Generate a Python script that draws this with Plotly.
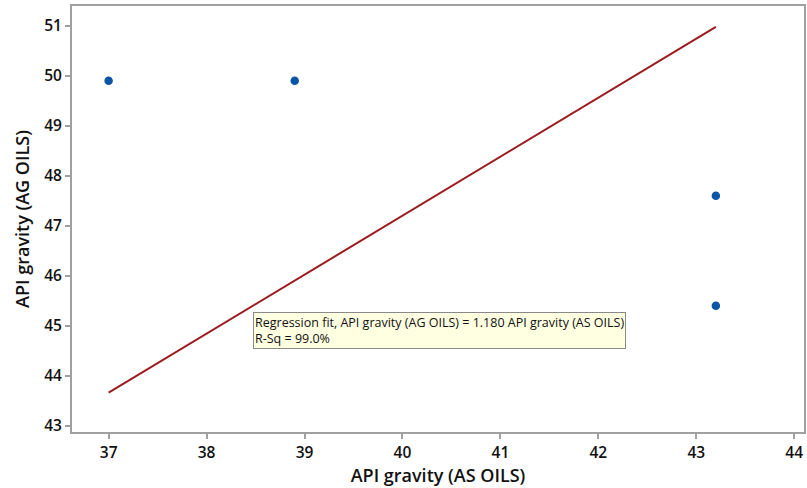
import plotly.graph_objects as go

# API gravity observations
as_oils = [37.0, 38.9, 43.2, 43.2]
ag_oils = [49.9, 49.9, 47.6, 45.4]

# Regression through origin: AG = slope * AS
slope = 1.180
r_sq = 99.0
fit_x = [min(as_oils), max(as_oils)]
fit_y = [slope * v for v in fit_x]

x_ticks = [37, 38, 39, 40, 41, 42, 43, 44]
y_ticks = [43, 44, 45, 46, 47, 48, 49, 50, 51]

FONT = "Open Sans, DejaVu Sans, sans-serif"

fig = go.Figure()
fig.add_trace(go.Scatter(
    x=fit_x, y=fit_y, mode="lines",
    line=dict(color="#9b1c1f", width=2),
    hoverinfo="skip", showlegend=False,
))
fig.add_trace(go.Scatter(
    x=as_oils, y=ag_oils, mode="markers",
    marker=dict(color="#0a55a5", size=8.5),
    showlegend=False,
))

fig.add_annotation(
    x=38.47, y=45.27, xref="x", yref="y",
    xanchor="left", yanchor="top",
    text=f"Regression fit, API gravity (AG OILS) = {slope:.3f} API gravity (AS OILS)<br>R-Sq = {r_sq:.1f}%",
    showarrow=False, align="left",
    font=dict(family=FONT, size=12.5, color="#111111"),
    bgcolor="#ffffe1", bordercolor="#8a8a8a", borderwidth=1, borderpad=1,
)

axis_common = dict(
    showgrid=False, zeroline=False,
    showline=True, linecolor="#a0a0a0", linewidth=2, mirror=True,
    ticks="outside", ticklen=5, tickwidth=2, tickcolor="#a0a0a0",
    tickfont=dict(family=FONT, size=15.5, color="#111111", weight=600),
)

fig.update_xaxes(
    range=[36.626, 44.1], tickvals=x_ticks,
    title=dict(text="API gravity (AS OILS)", standoff=6,
               font=dict(family=FONT, size=18, color="#111111", weight=600)),
    **axis_common,
)
fig.update_yaxes(
    range=[42.874, 51.394], tickvals=y_ticks,
    title=dict(text="API gravity (AG OILS)", standoff=10,
               font=dict(family=FONT, size=18, color="#111111", weight=600)),
    **axis_common,
)

fig.update_layout(
    width=807, height=488,
    margin=dict(l=72, r=1, t=6, b=56),
    plot_bgcolor="white", paper_bgcolor="white",
)

fig.write_html("out.html")
